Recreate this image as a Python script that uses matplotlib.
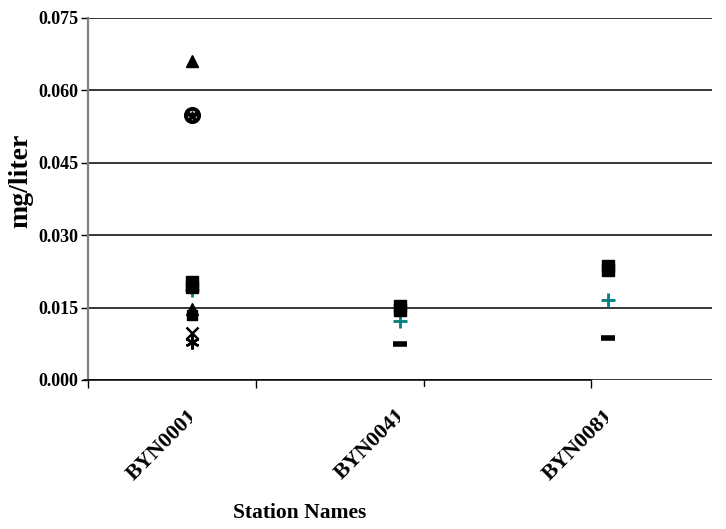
import matplotlib
matplotlib.use('Agg')
import matplotlib.pyplot as plt
from matplotlib.patches import Rectangle
from matplotlib.transforms import blended_transform_factory
import numpy as np

nan = np.nan
# station names (last character is clipped in the original chart)
stations = ['BYN0001', 'BYN0041', 'BYN0081']
y_ticks = [0.000, 0.015, 0.030, 0.045, 0.060, 0.075]

# series values per station (mg/liter)
teal_plus   = [0.0186, 0.0122, 0.0166]
square_a    = [0.0203, 0.0153, 0.0236]
square_b    = [0.0192, 0.0146, 0.0228]
dash_vals   = [nan, 0.0075, 0.0088]
triangle_a  = [0.0660, nan, nan]
triangle_b  = [0.0147, nan, nan]
square_c    = [0.0135, nan, nan]
circle_vals = [0.0548, nan, nan]
xmark_a     = [0.0546, nan, nan]
xmark_b     = [0.0098, nan, nan]
star_a      = [0.0547, nan, nan]
star_b      = [0.0079, nan, nan]

serif = ['Liberation Serif', 'DejaVu Serif']

fig = plt.figure(figsize=(7.26, 5.29), dpi=100)
ax = fig.add_axes([88/726, 1 - 380/529, 624/726, 362/529])

x = np.arange(len(stations)) + 0.5

ax.plot(x, teal_plus, linestyle='none', marker='+', color='#008080', ms=10, mew=2, zorder=3)
ax.plot(x, square_a, linestyle='none', marker='s', color='black', ms=8.5, zorder=4)
ax.plot(x, square_b, linestyle='none', marker='s', color='black', ms=8.5, zorder=4)
ax.plot(x, dash_vals, linestyle='none', marker='_', color='black', ms=9.5, mew=4, zorder=4)
ax.plot(x, triangle_a, linestyle='none', marker='^', color='black', ms=9, zorder=4)
ax.plot(x, triangle_b, linestyle='none', marker='^', color='black', ms=8, zorder=4)
ax.plot(x, square_c, linestyle='none', marker='s', color='black', ms=7.5, zorder=4)
ax.plot(x, circle_vals, linestyle='none', marker='o', mfc='none', mec='black', ms=9.5, mew=2.8, zorder=4)
ax.plot(x, xmark_a, linestyle='none', marker='x', color='black', ms=6, mew=1.8, zorder=4)
ax.plot(x, xmark_b, linestyle='none', marker='x', color='black', ms=9, mew=1.8, zorder=4)
ax.plot(x, star_a, linestyle='none', marker='*', color='black', ms=7, zorder=4)
ax.plot(x, star_b, linestyle='none', marker=(6, 2, 0), color='black', ms=10, mew=1.8, zorder=4)

ax.set_xlim(0, len(stations))
ax.set_ylim(0, 0.075)
ax.set_yticks(y_ticks)
ax.set_yticklabels(['%.3f' % v for v in y_ticks], family=serif, fontweight='bold', fontsize=13)
ax.grid(axis='y', color='black', linewidth=1.1, zorder=1)
ax.set_axisbelow(True)

for s in ['top', 'right']:
    ax.spines[s].set_visible(False)
ax.spines['left'].set_color('#808080')
ax.spines['left'].set_linewidth(1.6)
ax.spines['bottom'].set_color('black')
ax.spines['bottom'].set_linewidth(1.1)
ax.spines['bottom'].set_bounds(-0.02, 2.418)
ax.tick_params(axis='y', direction='out', length=5, width=1, color='black', pad=2)

# category tick marks as drawn in the original
ax.set_xticks([0, 0.808, 1.615, 2.418])
ax.set_xticklabels([])
ax.tick_params(axis='x', direction='out', length=6, width=1, color='black')

# rotated station labels, cut off at the category centre like the original
blend = blended_transform_factory(ax.transData, ax.transAxes)
for xi, name in zip(x, stations):
    ax.text(xi + 0.045, -0.07, name, transform=blend, rotation=45,
            ha='right', va='top', family=serif, fontweight='bold', fontsize=16,
            zorder=6, clip_on=False)
    ax.add_patch(Rectangle((xi, -0.6), 0.2, 0.58, transform=blend, facecolor='white',
                           edgecolor='none', zorder=7, clip_on=False))

ax.set_ylabel('mg/liter', family=serif, fontweight='bold', fontsize=20)
ax.yaxis.set_label_coords(-0.087, 0.55)
fig.text(300/726, 1 - 513/529, 'Station Names', family=serif, fontweight='bold',
         fontsize=15.5, ha='center', va='center')

fig.savefig('out.png', dpi=100)
